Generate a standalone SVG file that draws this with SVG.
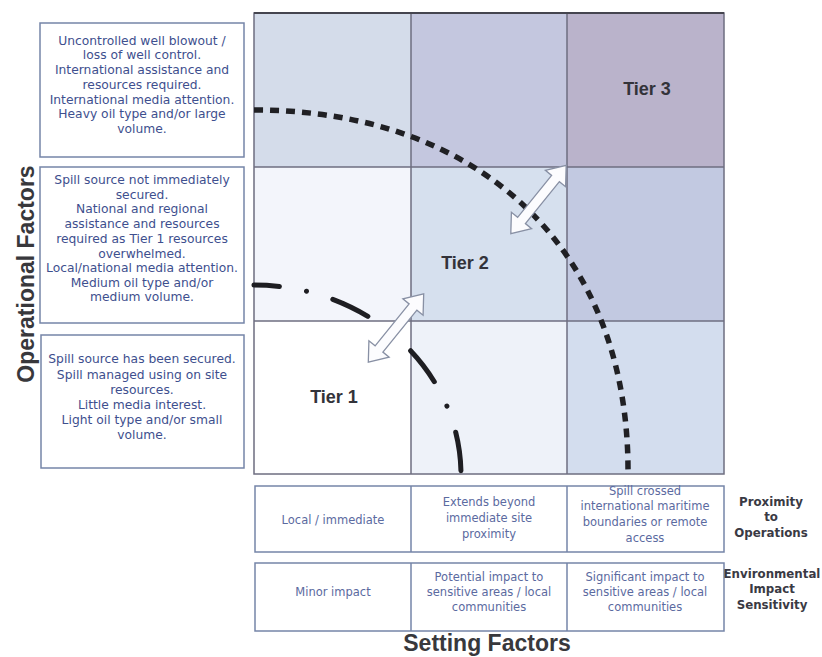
<svg xmlns="http://www.w3.org/2000/svg" width="822" height="657" viewBox="0 0 822 657">
<style>
.bx{fill:#ffffff;stroke:#7585a8;stroke-width:1.5}
.bt{font-family:"DejaVu Sans",sans-serif;font-size:12.3px;fill:#3e4f8e;text-anchor:middle}
.tt{font-family:"DejaVu Sans",sans-serif;font-size:11.5px;fill:#5b6aa0;text-anchor:middle}
.rl{font-family:"DejaVu Sans",sans-serif;font-weight:bold;font-size:11.8px;fill:#3a3a44;text-anchor:middle}
.tier{font-family:"Liberation Sans",Arial,sans-serif;font-weight:bold;font-size:18px;fill:#33333a;text-anchor:middle}
.ax{font-family:"Liberation Sans",Arial,sans-serif;font-weight:bold;font-size:23px;fill:#38383c;text-anchor:middle}
.gl{stroke:#6e6e80;stroke-width:1.5;fill:none}
.arr{fill:#fcfcfe;stroke:#8890a4;stroke-width:1.3}
</style>
<defs>
<polygon id="dblarrow" points="-44,0 -27,-13 -27,-5 27,-5 27,-13 44,0 27,13 27,5 -27,5 -27,13"/>
</defs>
<rect width="822" height="657" fill="#ffffff"/>

<g id="grid">
<rect x="254" y="13" width="157" height="154" fill="#d4dcea"/>
<rect x="411" y="13" width="156" height="154" fill="#c4c7df"/>
<rect x="567" y="13" width="157" height="154" fill="#bab3cb"/>
<rect x="254" y="167" width="157" height="154" fill="#f3f5fb"/>
<rect x="411" y="167" width="156" height="154" fill="#d6e0ee"/>
<rect x="567" y="167" width="157" height="154" fill="#c2c9e1"/>
<rect x="254" y="321" width="157" height="153" fill="#ffffff"/>
<rect x="411" y="321" width="156" height="153" fill="#eef2f9"/>
<rect x="567" y="321" width="157" height="153" fill="#d3ddee"/>
<rect x="254" y="13" width="470" height="461" class="gl"/>
<line x1="411" y1="13" x2="411" y2="474" class="gl"/>
<line x1="567" y1="13" x2="567" y2="474" class="gl"/>
<line x1="254" y1="167" x2="724" y2="167" class="gl"/>
<line x1="254" y1="321" x2="724" y2="321" class="gl"/>
<line x1="254" y1="13" x2="724" y2="13" stroke="#45454f" stroke-width="2"/>
</g>

<g id="tier3"><text class="tier" x="647" y="95">Tier 3</text></g>
<g id="tier2"><text class="tier" x="465" y="269">Tier 2</text></g>
<g id="tier1"><text class="tier" x="334" y="403">Tier 1</text></g>

<g id="connectors">
<path d="M254,110 C480,110 630,250 628,475" fill="none" stroke="#202024" stroke-width="5.5" stroke-dasharray="9 7"/>
<path d="M254,285 A207,190 0 0 1 461,475" fill="none" stroke="#1e1e22" stroke-width="5" stroke-linecap="round" stroke-dasharray="39 27.5 0.01 27.5" stroke-dashoffset="13.5"/>
<use href="#dblarrow" class="arr" transform="translate(538.5,199.5) rotate(-51)"/>
<use href="#dblarrow" class="arr" transform="translate(396,328) rotate(-51)"/>
</g>

<g id="op-tier3">
<rect class="bx" x="40" y="23" width="204" height="134"/>
<text class="bt" x="142" y="45">Uncontrolled well blowout /</text>
<text class="bt" x="142" y="59">loss of well control.</text>
<text class="bt" x="142" y="74">International assistance and</text>
<text class="bt" x="142" y="89">resources required.</text>
<text class="bt" x="142" y="104">International media attention.</text>
<text class="bt" x="142" y="118">Heavy oil type and/or large</text>
<text class="bt" x="142" y="133">volume.</text>
</g>

<g id="op-tier2">
<rect class="bx" x="40" y="167" width="204" height="156"/>
<text class="bt" x="142" y="184">Spill source not immediately</text>
<text class="bt" x="142" y="199">secured.</text>
<text class="bt" x="142" y="213">National and regional</text>
<text class="bt" x="142" y="228">assistance and resources</text>
<text class="bt" x="142" y="243">required as Tier 1 resources</text>
<text class="bt" x="142" y="258">overwhelmed.</text>
<text class="bt" x="142" y="272">Local/national media attention.</text>
<text class="bt" x="142" y="287">Medium oil type and/or</text>
<text class="bt" x="142" y="301">medium volume.</text>
</g>

<g id="op-tier1">
<rect class="bx" x="41" y="335" width="203" height="133"/>
<text class="bt" x="142" y="363">Spill source has been secured.</text>
<text class="bt" x="142" y="379">Spill managed using on site</text>
<text class="bt" x="142" y="394">resources.</text>
<text class="bt" x="142" y="409">Little media interest.</text>
<text class="bt" x="142" y="424">Light oil type and/or small</text>
<text class="bt" x="142" y="439">volume.</text>
</g>

<g id="axis-operational">
<text class="ax" font-size="26" transform="translate(34,274) rotate(-90)">Operational Factors</text>
</g>

<g id="proximity-row">
<rect class="bx" x="255" y="486" width="469" height="66"/>
<line x1="411" y1="486" x2="411" y2="552" stroke="#7585a8" stroke-width="1.5"/>
<line x1="567" y1="486" x2="567" y2="552" stroke="#7585a8" stroke-width="1.5"/>
<text class="tt" x="333" y="524">Local / immediate</text>
<text class="tt" x="489" y="506">Extends beyond</text>
<text class="tt" x="489" y="522">immediate site</text>
<text class="tt" x="489" y="538">proximity</text>
<text class="tt" x="645" y="495">Spill crossed</text>
<text class="tt" x="645" y="510">international maritime</text>
<text class="tt" x="645" y="526">boundaries or remote</text>
<text class="tt" x="645" y="542">access</text>
</g>

<g id="proximity-label">
<text class="rl" x="771" y="506">Proximity</text>
<text class="rl" x="771" y="521">to</text>
<text class="rl" x="771" y="537">Operations</text>
</g>

<g id="environment-row">
<rect class="bx" x="255" y="563" width="469" height="68"/>
<line x1="411" y1="563" x2="411" y2="631" stroke="#7585a8" stroke-width="1.5"/>
<line x1="567" y1="563" x2="567" y2="631" stroke="#7585a8" stroke-width="1.5"/>
<text class="tt" x="333" y="596">Minor impact</text>
<text class="tt" x="489" y="581">Potential impact to</text>
<text class="tt" x="489" y="596">sensitive areas / local</text>
<text class="tt" x="489" y="611">communities</text>
<text class="tt" x="645" y="581">Significant impact to</text>
<text class="tt" x="645" y="596">sensitive areas / local</text>
<text class="tt" x="645" y="611">communities</text>
</g>

<g id="environment-label">
<text class="rl" x="772" y="578">Environmental</text>
<text class="rl" x="772" y="593">Impact</text>
<text class="rl" x="772" y="609">Sensitivity</text>
</g>

<g id="axis-setting">
<text class="ax" x="487" y="651">Setting Factors</text>
</g>
</svg>
